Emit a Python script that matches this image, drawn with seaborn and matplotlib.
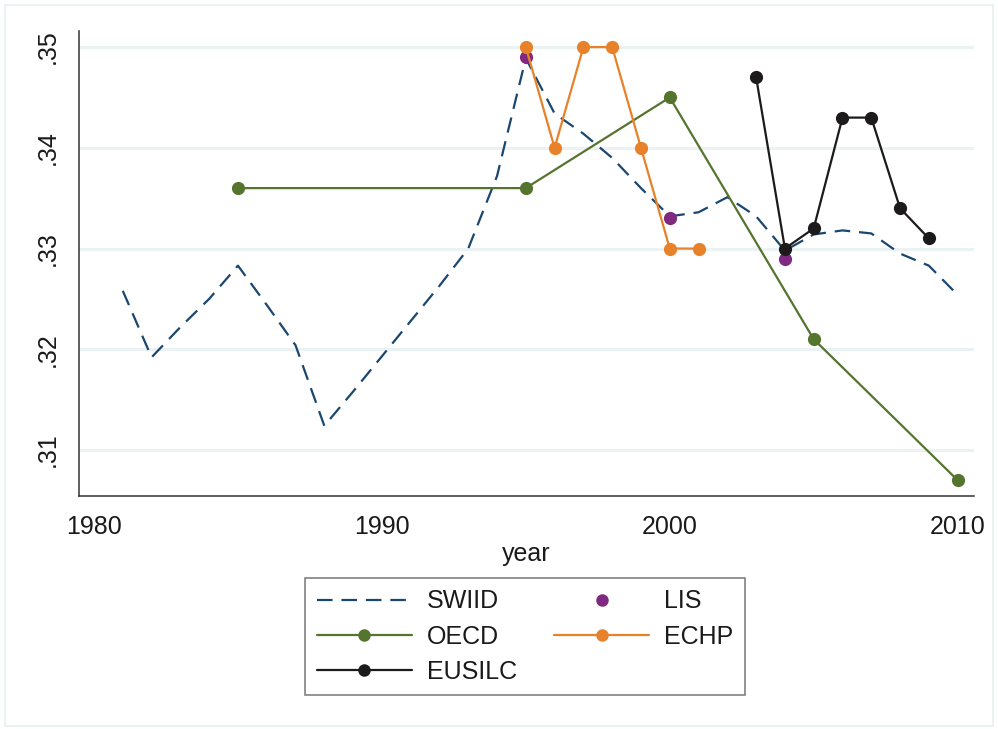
import matplotlib
matplotlib.use("Agg")
import matplotlib.pyplot as plt
import matplotlib.patches as mpatches
from matplotlib.lines import Line2D
import seaborn as sns
import pandas as pd

# SWIID series (annual)
swiid_years = [1981, 1982, 1983, 1984, 1985, 1986, 1987, 1988, 1989, 1990,
               1991, 1992, 1993, 1994, 1995, 1996, 1997, 1998, 1999, 2000,
               2001, 2002, 2003, 2004, 2005, 2006, 2007, 2008, 2009, 2010]
swiid_vals = [0.3258, 0.3192, 0.3222, 0.3250, 0.3283, 0.3244, 0.3204, 0.3124, 0.3158, 0.3193,
              0.3228, 0.3263, 0.3300, 0.3372, 0.3489, 0.3434, 0.3414, 0.3390, 0.3360, 0.3332,
              0.3336, 0.3351, 0.3332, 0.3298, 0.3314, 0.3318, 0.3315, 0.3295, 0.3283, 0.3254]

# LIS observations
lis_years = [1995, 2000, 2004]
lis_vals = [0.349, 0.333, 0.329]

# OECD observations
oecd_years = [1985, 1995, 2000, 2005, 2010]
oecd_vals = [0.336, 0.336, 0.345, 0.321, 0.307]

# ECHP observations
echp_years = [1995, 1996, 1997, 1998, 1999, 2000, 2001]
echp_vals = [0.350, 0.340, 0.350, 0.350, 0.340, 0.330, 0.330]

# EU-SILC observations
eusilc_years = [2003, 2004, 2005, 2006, 2007, 2008, 2009]
eusilc_vals = [0.347, 0.330, 0.332, 0.343, 0.343, 0.334, 0.331]

x_ticks = [1980, 1990, 2000, 2010]
y_ticks = [0.31, 0.32, 0.33, 0.34, 0.35]
y_tick_labels = [".31", ".32", ".33", ".34", ".35"]

C_SWIID = "#1a476f"
C_LIS = "#7f2a80"
C_OECD = "#55752f"
C_ECHP = "#e8822a"
C_EUSILC = "#1c1a1b"
GRID = "#eaf2f3"

sns.set_style("white")
plt.rcParams["font.family"] = ["Liberation Sans", "DejaVu Sans"]

fig = plt.figure(figsize=(9.98, 7.29), dpi=100)
ax = fig.add_axes([0.0792, 0.3196, 0.8968, 0.6379])

# outer frame around the whole graph region
fig.patches.append(mpatches.Rectangle((5 / 998, 3 / 729), 988 / 998, 721 / 729,
                                      transform=fig.transFigure, fill=False,
                                      edgecolor=GRID, linewidth=1.5, zorder=0))

for yv in y_ticks:
    ax.axhline(yv, color=GRID, linewidth=2.2, zorder=0)

df_swiid = pd.DataFrame({"year": swiid_years, "gini": swiid_vals})
df_lis = pd.DataFrame({"year": lis_years, "gini": lis_vals})
df_oecd = pd.DataFrame({"year": oecd_years, "gini": oecd_vals})
df_echp = pd.DataFrame({"year": echp_years, "gini": echp_vals})
df_eusilc = pd.DataFrame({"year": eusilc_years, "gini": eusilc_vals})

ms = 9.5
lw = 1.6
sns.lineplot(data=df_swiid, x="year", y="gini", ax=ax, color=C_SWIID,
             linewidth=lw, legend=False, zorder=2)
ax.lines[-1].set_dashes((7, 4))
sns.scatterplot(data=df_lis, x="year", y="gini", ax=ax, color=C_LIS,
                s=ms ** 2, linewidth=0, legend=False, zorder=3)
sns.lineplot(data=df_oecd, x="year", y="gini", ax=ax, color=C_OECD,
             linewidth=lw, marker="o", markersize=ms, markeredgewidth=0,
             legend=False, zorder=4)
sns.lineplot(data=df_echp, x="year", y="gini", ax=ax, color=C_ECHP,
             linewidth=lw, marker="o", markersize=ms, markeredgewidth=0,
             legend=False, zorder=5)
sns.lineplot(data=df_eusilc, x="year", y="gini", ax=ax, color=C_EUSILC,
             linewidth=lw, marker="o", markersize=ms, markeredgewidth=0,
             legend=False, zorder=6)

ax.set_xlim(1979.48, 2010.57)
ax.set_ylim(0.30543, 0.3516)
ax.set_xticks(x_ticks)
ax.set_xticklabels([str(v) for v in x_ticks])
ax.set_yticks(y_ticks)
ax.set_yticklabels(y_tick_labels, rotation=90, va="center")
ax.tick_params(axis="both", which="major", labelsize=18, length=7, width=1,
               color="#666666", labelcolor="#1a1a1a", direction="out", pad=7)
ax.tick_params(axis="x", pad=7)
ax.set_xlabel("year", fontsize=18, color="#1a1a1a", labelpad=2)
ax.set_ylabel("")

for side in ["top", "right"]:
    ax.spines[side].set_visible(False)
for side in ["left", "bottom"]:
    ax.spines[side].set_color("#333333")
    ax.spines[side].set_linewidth(1.1)

# legend laid out row-wise: SWIID, LIS / OECD, ECHP / EUSILC
order = ["SWIID", "OECD", "EUSILC", "LIS", "ECHP"]
lms = 9
leg_handles = [
    Line2D([], [], color=C_SWIID, linewidth=lw, dashes=(7, 4)),
    Line2D([], [], color=C_OECD, linewidth=lw, marker="o", markersize=lms, markeredgewidth=0),
    Line2D([], [], color=C_EUSILC, linewidth=lw, marker="o", markersize=lms, markeredgewidth=0),
    Line2D([], [], color=C_LIS, linestyle="none", marker="o", markersize=lms, markeredgewidth=0),
    Line2D([], [], color=C_ECHP, linewidth=lw, marker="o", markersize=lms, markeredgewidth=0),
]
leg = fig.legend(leg_handles, order, loc="upper center",
                 bbox_to_anchor=(525 / 998, 1 - 578 / 729), ncol=2,
                 fontsize=18, frameon=True, fancybox=False, edgecolor="#555555",
                 handlelength=3.8, handletextpad=0.6, columnspacing=1.5,
                 labelspacing=0.45, borderpad=0.45, borderaxespad=0, numpoints=1)
leg.get_frame().set_linewidth(1.1)
for t in leg.get_texts():
    t.set_color("#1a1a1a")

fig.savefig("out.png", dpi=100, facecolor="white")
